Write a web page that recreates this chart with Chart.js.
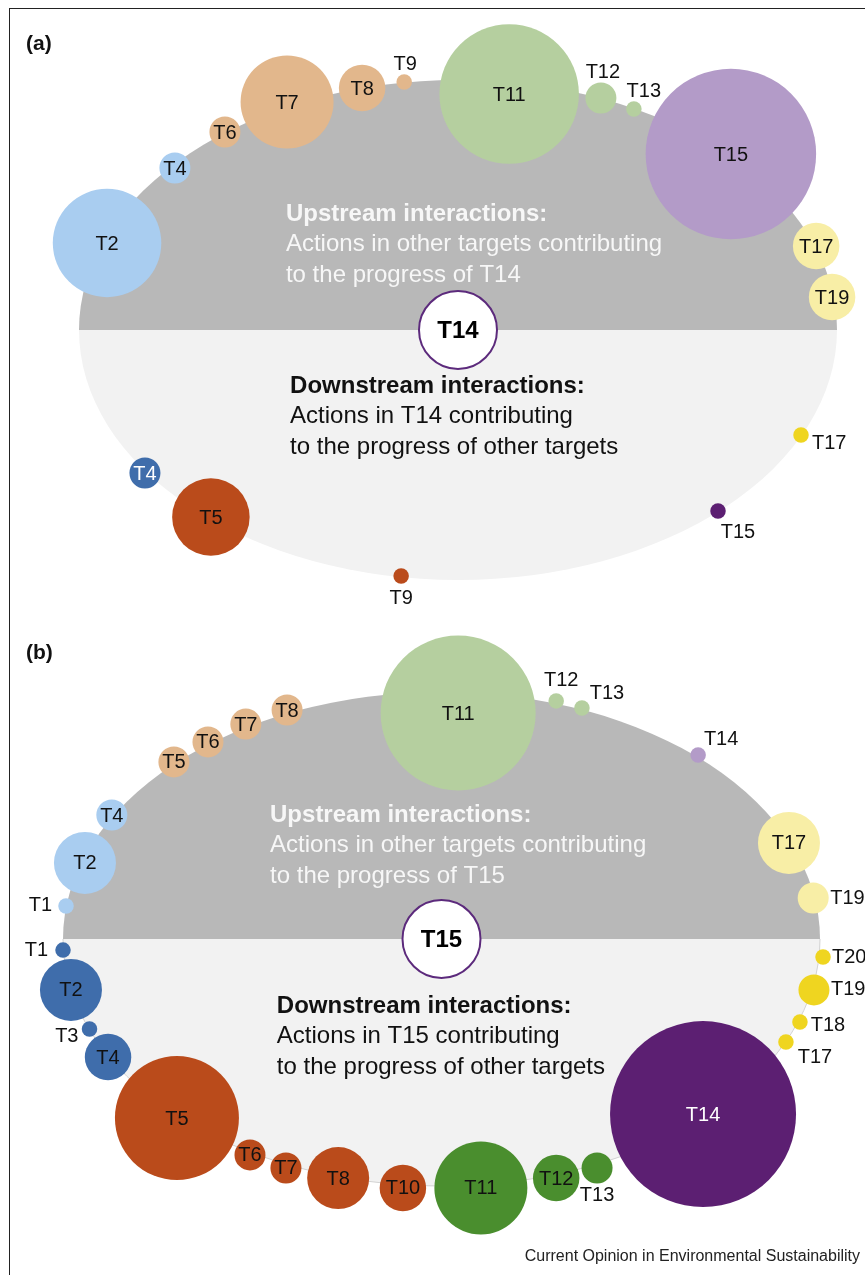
<!DOCTYPE html>
<html>
<head>
<meta charset="utf-8">
<script src="https://cdn.jsdelivr.net/npm/chart.js@4.4.1/dist/chart.umd.min.js"></script>
<style>
  html, body { margin: 0; padding: 0; background: #fff; }
  body { width: 865px; height: 1275px; position: relative; overflow: hidden;
         font-family: "Liberation Sans", Arial, Helvetica, sans-serif; }
  .frame { position: absolute; left: 9px; top: 8px; width: 900px; height: 1300px;
           border: 1px solid #222; box-sizing: border-box; }
  .panel { position: absolute; left: 0; width: 865px; }
  .panel canvas { display: block; }
  .tag { position: absolute; left: 26px; font-weight: bold; font-size: 21px; line-height: 24px; color: #111; }
  .source { position: absolute; right: 5px; top: 1246px; font-size: 16px; line-height: 20px; color: #222; }
</style>
</head>
<body>
<div class="frame"></div>
<div class="panel" style="top:0;height:630px"><canvas id="chartA" width="865" height="630"></canvas></div>
<div class="panel" style="top:620px;height:655px"><canvas id="chartB" width="865" height="655"></canvas></div>
<div class="tag" style="top:31px">(a)</div>
<div class="tag" style="top:640px">(b)</div>
<div class="source">Current Opinion in Environmental Sustainability</div>
<script>
// Panel (a): interactions around T14
// positions are on the ring: x, y in % of the ring's half-width / half-height
const aHub = 'T14';
const aUpTargets = ['T2', 'T4', 'T6', 'T7', 'T8', 'T9', 'T11', 'T12', 'T13', 'T15', 'T17', 'T19'];
const aUpCount = [7, 2, 2, 6, 3, 1, 9, 2, 1, 11, 3, 3];
const aUpX = [-92.6, -74.7, -61.5, -45.1, -25.3, -14.2, 13.5, 37.7, 46.4, 72.0, 94.5, 98.7];
const aUpY = [34.8, 64.8, 79.2, 91.2, 96.8, 99.2, 94.4, 92.8, 88.4, 70.4, 33.6, 13.2];
const aDownTargets = ['T4', 'T5', 'T9', 'T15', 'T17'];
const aDownCount = [2, 5, 1, 1, 1];
const aDownX = [-82.6, -65.2, -15.0, 68.6, 90.5];
const aDownY = [-57.2, -74.8, -98.4, -72.4, -42.0];

// Panel (b): interactions around T15
const bHub = 'T15';
const bUpTargets = ['T1', 'T2', 'T4', 'T5', 'T6', 'T7', 'T8', 'T11', 'T12', 'T13', 'T14', 'T17', 'T19'];
const bUpCount = [1, 4, 2, 2, 2, 2, 2, 10, 1, 1, 1, 4, 2];
const bUpX = [-99.2, -94.2, -87.1, -70.7, -61.7, -51.7, -40.8, 4.4, 30.3, 37.1, 67.8, 91.8, 98.2];
const bUpY = [13.4, 30.8, 50.2, 71.7, 79.8, 87.0, 92.7, 91.5, 96.4, 93.5, 74.5, 38.9, 16.6];
const bDownTargets = ['T1', 'T2', 'T3', 'T4', 'T5', 'T6', 'T7', 'T8', 'T10', 'T11', 'T12', 'T13', 'T14', 'T17', 'T18', 'T19', 'T20'];
const bDownCount = [1, 4, 1, 3, 8, 2, 2, 4, 3, 6, 3, 2, 12, 1, 1, 2, 1];
const bDownX = [-100, -97.9, -93.0, -88.1, -69.9, -50.6, -41.1, -27.3, -10.2, 10.4, 30.3, 41.1, 69.1, 91.0, 94.7, 98.4, 100.8];
const bDownY = [-4.5, -20.6, -36.4, -47.8, -72.5, -87.4, -92.7, -96.8, -100.8, -100.8, -96.8, -92.7, -70.9, -41.7, -33.6, -20.6, -7.3];

const FONT = '"Liberation Sans", Arial, Helvetica, sans-serif';
const UNIT_PX = 7.75;   // bubble radius per interaction
const HUB_R = 39;
const LINE_H = 30.5;

const UP_COLORS = { blue: '#a9cdf0', orange: '#e2b78c', green: '#b5cf9f', purple: '#b39bc8', yellow: '#f8eea6' };
const DOWN_COLORS = { blue: '#3f6dab', orange: '#ba4b1b', green: '#4a8e2e', purple: '#5c1f72', yellow: '#efd520' };

function groupOf(t) {
    const n = Number(t.slice(1));
    if (n <= 4) return 'blue';
    if (n <= 10) return 'orange';
    if (n <= 13) return 'green';
    if (n <= 16) return 'purple';
    return 'yellow';
}

// ring geometry in canvas pixels
const RING_A = { cx: 458, cy: 330, rx: 379, ry: 250, outline: false };
const RING_B = { cx: 441.5, cy: 319, rx: 378.5, ry: 247, outline: true };

// labels drawn outside small bubbles: [dx, dy, align]
const OUT_A = {
    up: { T9: [1, -18, 'center'], T12: [2, -26, 'center'], T13: [10, -18, 'center'] },
    down: { T9: [0, 22, 'center'], T15: [20, 21, 'center'], T17: [11, 8, 'left'] }
};
const OUT_B = {
    up: { T1: [-14, 0, 'right'], T12: [5, -20, 'center'], T13: [25, -15, 'center'], T14: [23, -16, 'center'], T19: [17, 0, 'left'] },
    down: { T1: [-15, 0, 'right'], T3: [-11, 8, 'right'], T13: [0, 28, 'center'], T17: [29, 15, 'center'],
            T18: [28, 3, 'center'], T19: [17, 0, 'left'], T20: [9, 0, 'left'] }
};
const WHITE_A = ['T4'];
const WHITE_B = ['T14'];

function bubbles(targets, counts, xs, ys) {
    return targets.map((t, i) => ({ x: xs[i], y: ys[i], r: counts[i] * UNIT_PX, label: t }));
}

function ringScales(canvas, ring) {
    return {
        x: { type: 'linear', display: false, min: -ring.cx / ring.rx * 100, max: (canvas.width - ring.cx) / ring.rx * 100 },
        y: { type: 'linear', display: false, min: -(canvas.height - ring.cy) / ring.ry * 100, max: ring.cy / ring.ry * 100 }
    };
}

function drawBlock(ctx, x, y, lines, color) {
    ctx.fillStyle = color;
    ctx.textAlign = 'left';
    ctx.textBaseline = 'middle';
    lines.forEach(function (l, i) {
        ctx.font = (i === 0 ? 'bold ' : '') + '24px ' + FONT;
        ctx.fillText(l, x, y + i * LINE_H);
    });
}

function makePanel(id, ring, hub, up, down, out, white, textUp, textDown) {
    const canvas = document.getElementById(id);
    const upLines = ['Upstream interactions:', 'Actions in other targets contributing', 'to the progress of ' + hub];
    const downLines = ['Downstream interactions:', 'Actions in ' + hub + ' contributing', 'to the progress of other targets'];

    const ringPlugin = {
        id: 'ring',
        beforeDatasetsDraw(chart) {
            const ctx = chart.ctx;
            const sx = chart.scales.x, sy = chart.scales.y;
            const cx = sx.getPixelForValue(0), cy = sy.getPixelForValue(0);
            const rx = sx.getPixelForValue(100) - cx, ry = cy - sy.getPixelForValue(100);
            ctx.save();
            ctx.beginPath();
            ctx.ellipse(cx, cy, rx, ry, 0, 0, Math.PI);
            ctx.closePath();
            ctx.fillStyle = '#f2f2f2';
            ctx.fill();
            if (ring.outline) {
                ctx.beginPath();
                ctx.ellipse(cx, cy, rx, ry, 0, 0, Math.PI);
                ctx.strokeStyle = '#d2d2d2';
                ctx.lineWidth = 1;
                ctx.stroke();
            }
            ctx.beginPath();
            ctx.ellipse(cx, cy, rx, ry, 0, Math.PI, 2 * Math.PI);
            ctx.closePath();
            ctx.fillStyle = '#b8b8b8';
            ctx.fill();
            drawBlock(ctx, sx.getPixelForValue(textUp[0]), sy.getPixelForValue(textUp[1]), upLines, '#f7f7f7');
            drawBlock(ctx, sx.getPixelForValue(textDown[0]), sy.getPixelForValue(textDown[1]), downLines, '#111');
            ctx.restore();
        },
        afterDatasetsDraw(chart) {
            const ctx = chart.ctx;
            ctx.save();
            ctx.textBaseline = 'middle';
            chart.data.datasets.forEach(function (ds, di) {
                const meta = chart.getDatasetMeta(di);
                meta.data.forEach(function (el, i) {
                    const t = ds.data[i].label;
                    if (ds.side === 'hub') {
                        ctx.font = 'bold 24px ' + FONT;
                        ctx.fillStyle = '#000';
                        ctx.textAlign = 'center';
                        ctx.fillText(t, el.x, el.y + 1);
                        return;
                    }
                    const o = out[ds.side][t];
                    ctx.font = '20px ' + FONT;
                    if (o) {
                        ctx.fillStyle = '#111';
                        ctx.textAlign = o[2];
                        ctx.fillText(t, el.x + o[0], el.y + o[1]);
                    } else {
                        ctx.fillStyle = (ds.side === 'down' && white.indexOf(t) >= 0) ? '#fff' : '#111';
                        ctx.textAlign = 'center';
                        ctx.fillText(t, el.x, el.y + 1);
                    }
                });
            });
            ctx.restore();
        }
    };

    return new Chart(canvas, {
        type: 'bubble',
        data: {
            datasets: [
                {
                    side: 'hub',
                    data: [{ x: 0, y: 0, r: HUB_R, label: hub }],
                    backgroundColor: '#ffffff',
                    borderColor: '#5c2a7c',
                    borderWidth: 2,
                    clip: false
                },
                {
                    side: 'up',
                    data: bubbles(up[0], up[1], up[2], up[3]),
                    backgroundColor: up[0].map(t => UP_COLORS[groupOf(t)]),
                    borderWidth: 0,
                    clip: false
                },
                {
                    side: 'down',
                    data: bubbles(down[0], down[1], down[2], down[3]),
                    backgroundColor: down[0].map(t => DOWN_COLORS[groupOf(t)]),
                    borderWidth: 0,
                    clip: false
                }
            ]
        },
        options: {
            responsive: false,
            animation: false,
            events: [],
            layout: { padding: 0, autoPadding: false },
            scales: ringScales(canvas, ring),
            plugins: {
                legend: { display: false },
                tooltip: { enabled: false }
            }
        },
        plugins: [ringPlugin]
    });
}

makePanel('chartA', RING_A, aHub,
    [aUpTargets, aUpCount, aUpX, aUpY],
    [aDownTargets, aDownCount, aDownX, aDownY],
    OUT_A, WHITE_A, [-45.4, 46.4], [-44.3, -22.4]);

makePanel('chartB', RING_B, bHub,
    [bUpTargets, bUpCount, bUpX, bUpY],
    [bDownTargets, bDownCount, bDownX, bDownY],
    OUT_B, WHITE_B, [-45.3, 50.2], [-43.5, -27.1]);
</script>
</body>
</html>
